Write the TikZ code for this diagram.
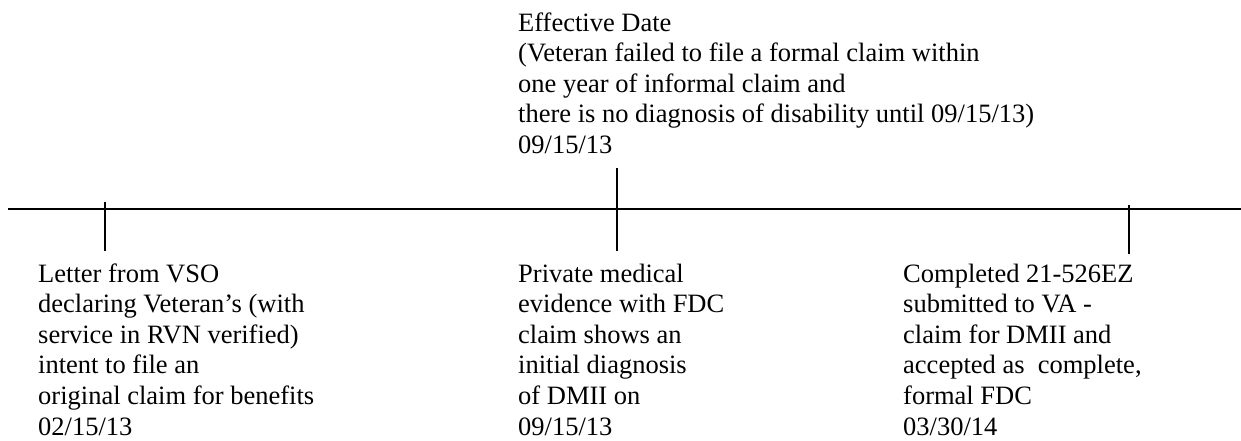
\documentclass[tikz,border=0pt]{standalone}
\usepackage{fontspec}
\setmainfont{Liberation Serif}
\begin{document}
\begin{tikzpicture}[x=1pt,y=-1pt,
  lbl/.style={anchor=base west,inner sep=0pt,align=left,
    font=\fontsize{26.5}{30.6}\selectfont},
  rule/.style={line width=1.7pt,black}]
\useasboundingbox (0,0) rectangle (1241,441);
% timeline
\coordinate (L) at (8,209);
\coordinate (R) at (1241,209);
\draw[rule] (L) -- (R);
% ticks
\coordinate (t1a) at (105,202); \coordinate (t1b) at (105,251);
\coordinate (t2a) at (617,168); \coordinate (t2b) at (617,251);
\coordinate (t3a) at (1129,205); \coordinate (t3b) at (1129,254);
\draw[rule] (t1a) -- (t1b);
\draw[rule] (t2a) -- (t2b);
\draw[rule] (t3a) -- (t3b);
% labels (base anchor = baseline of last line)
\node[lbl] (top) at (518,153.5) {Effective Date\\(Veteran failed to file a formal claim within\\one year of informal claim and\\there is no diagnosis of disability until 09/15/13)\\09/15/13};
\node[lbl] (left) at (38,435) {Letter from VSO\\declaring Veteran’s (with\\service in RVN verified)\\intent to file an\\original claim for benefits\\02/15/13};
\node[lbl] (mid) at (518,435) {Private medical\\evidence with FDC\\claim shows an\\initial diagnosis\\of DMII on\\09/15/13};
\node[lbl] (right) at (903,435) {Completed 21-526EZ\\submitted to VA -\\claim for DMII and\\accepted as\ \ complete,\\formal FDC\\03/30/14};
\end{tikzpicture}
\end{document}
